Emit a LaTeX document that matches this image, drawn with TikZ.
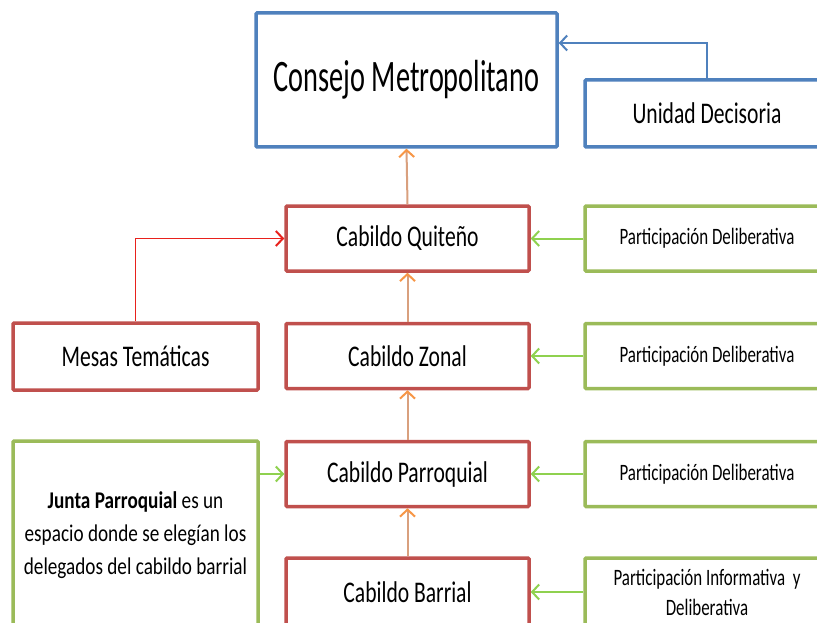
\documentclass[tikz,border=0pt]{standalone}
\usepackage{fontspec}
\setmainfont{Carlito}[FakeStretch=0.72]
\newfontfamily\fbig{Carlito}[FakeStretch=0.63]
\newfontfamily\fjunta{Carlito}[FakeStretch=0.8]
\usetikzlibrary{arrows.meta}
\definecolor{bblue}{HTML}{4F81BD}
\definecolor{bred}{HTML}{C0504D}
\definecolor{bgreen}{HTML}{9BBB59}
\definecolor{agreen}{HTML}{8FD14F}
\definecolor{ared}{HTML}{E8211C}
\definecolor{atan}{HTML}{D9A07E}
\definecolor{aorange}{HTML}{F79646}
\tikzset{
  box/.style={draw, line width=3.5pt, fill=white, inner sep=0pt, align=center, rounded corners=1pt},
  bluebox/.style={box, draw=bblue},
  redbox/.style={box, draw=bred, minimum width=243pt, minimum height=65pt},
  greenbox/.style={box, draw=bgreen, minimum width=244pt, minimum height=65pt},
  tip/.style={-{Straight Barb[length=7pt,width=15pt,line width=2pt]}},
  uparr/.style={draw=atan, line width=2pt, -{Straight Barb[length=7pt,width=15pt,line width=2pt,color=aorange]}},
  garr/.style={draw=agreen, line width=2pt, tip},
  rarr/.style={draw=ared, line width=1.6pt, tip},
  barr/.style={draw=bblue, line width=2pt, tip},
  big/.style={font=\fbig\fontsize{45}{48}\selectfont},
  mid/.style={font=\fontsize{30}{33}\selectfont},
  small/.style={font=\fontsize{23.5}{30}\selectfont},
}
\begin{document}
\begin{tikzpicture}[x=1pt,y=-1pt]
\clip (0,0) rectangle (817,623);
\fill[white] (0,0) rectangle (817,623);
% top
\node[bluebox, minimum width=301pt, minimum height=134pt, big] (consejo) at (406.5,80) {Consejo Metropolitano};
\node[bluebox, minimum width=244pt, minimum height=67pt, mid] (unidad) at (707,113.5) {Unidad Decisoria};
% centre column
\node[redbox, mid] (quiteno) at (407.5,238.5) {Cabildo Quiteño};
\node[redbox, mid] (zonal) at (407.5,356) {Cabildo Zonal};
\node[redbox, mid] (parroquial) at (407.5,474) {Cabildo Parroquial};
\node[redbox, mid, minimum height=68pt] (barrial) at (407.5,592) {Cabildo Barrial};
% right column
\node[greenbox, small] (p1) at (707,238.5) {Participación Deliberativa};
\node[greenbox, small] (p2) at (707,356) {Participación Deliberativa};
\node[greenbox, small] (p3) at (707,474) {Participación Deliberativa};
\node[greenbox, small, minimum height=68pt] (p4) at (707,592) {Participación Informativa\ \ y\\Deliberativa};
% left column
\node[box, draw=bred, minimum width=245pt, minimum height=67pt, mid] (mesas) at (135.5,356.5) {Mesas Temáticas};
\node[box, draw=bgreen, minimum width=245pt, minimum height=188pt, font=\fjunta\fontsize{24}{33}\selectfont] (junta) at (135.5,535) {\textbf{Junta Parroquial} es un\\espacio donde se elegían los\\delegados del cabildo barrial};
% connectors
\draw[barr] (unidad.north) |- (consejo.east |- 0,43);
\draw[uparr] (quiteno.north) -- (consejo.south);
\draw[uparr] (zonal.north) -- (quiteno.south);
\draw[uparr] (parroquial.north) -- (zonal.south);
\draw[uparr] (barrial.north) -- (parroquial.south);
\draw[garr] (p1.west) -- (quiteno.east);
\draw[garr] (p2.west) -- (zonal.east);
\draw[garr] (p3.west) -- (parroquial.east);
\draw[garr] (p4.west) -- (barrial.east);
\draw[garr] (junta.east |- parroquial.west) -- (parroquial.west);
\draw[rarr] (mesas.north) |- (quiteno.west);
\end{tikzpicture}
\end{document}
